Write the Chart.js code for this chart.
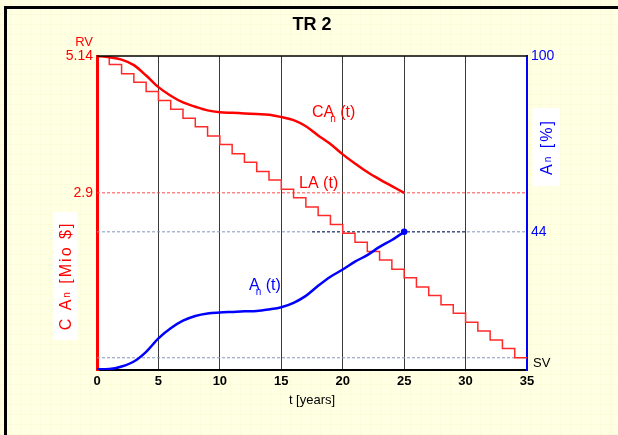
<!DOCTYPE html>
<html>
<head>
<meta charset="utf-8">
<script src="https://cdn.jsdelivr.net/npm/chart.js@4"></script>
<style>
body{
    margin:0;
    width:618px;
    height:435px;
    overflow:hidden;
    background-color:#ffffe4;
    background-image:
        repeating-linear-gradient(0deg, rgba(235,225,150,0.12) 0 1px, transparent 1px 10px),
        repeating-linear-gradient(90deg, rgba(235,225,150,0.12) 0 1px, transparent 1px 10px);
}
#marco{
    position:absolute;
    left:4px;
    top:6px;
    width:640px;
    height:460px;
    border-left:3px solid #000;
    border-top:3px solid #000;
}
#grafico{
    position:absolute;
    left:0;
    top:0;
}
</style>
</head>
<body>
<div id="marco"></div>
<canvas id="grafico" width="618" height="435"></canvas>

<script>

// ================================
// DATOS
// ================================

const años = [0,1,2,3,4,5,6,7,8,9,10,11,12,13,14,15,16,17,18,19,20,21,22,23,24,25];

const valorCA = [5.14,5.12,5.08,4.99,4.82,4.63,4.49,4.38,4.31,4.25,4.22,4.21,4.20,4.19,4.18,4.14,4.09,3.99,3.84,3.70,3.53,3.38,3.24,3.12,3.01,2.90];

const valorA = [0.2,0.3,1.1,2.7,5.8,10.1,13.3,15.7,17.2,18.0,18.3,18.5,18.7,18.8,19.3,20.0,21.4,23.6,26.8,29.7,32.0,34.5,36.6,39.2,41.4,44.0];

const añosLA = [0,1,2,3,4,5,6,7,8,9,10,11,12,13,14,15,16,17,18,19,20,21,22,23,24,25,26,27,28,29,30,31,32,33,34,35];

const valorLA = [5.14,5.00,4.85,4.71,4.56,4.41,4.27,4.12,3.98,3.83,3.69,3.54,3.40,3.25,3.11,2.96,2.82,2.67,2.53,2.38,2.24,2.09,1.94,1.80,1.65,1.51,1.36,1.22,1.07,0.93,0.78,0.64,0.49,0.35,0.20,0.20];

const RV = 5.14;
const SV = 0.20;
const valorFinal = 2.9;
const porcFinal = 44;

const ticksX = [0,5,10,15,20,25,30,35];
const ticksIzq = [2.9,5.14];
const ticksDer = [44,100];

// ================================
// GRAFICO
// ================================

const rojo = "#ff0000";
const azul = "#0000ff";
const fuente = "'Liberation Sans', Arial, sans-serif";

function puntos(xs, ys){
    return xs.map((x,i)=>({x:x, y:ys[i]}));
}

const fondo = {
    id:"fondo",
    beforeDraw(chart){
        const c = chart.ctx;
        const a = chart.chartArea;
        c.save();
        c.fillStyle = "#ffffff";
        c.fillRect(a.left, a.top, a.right-a.left, a.bottom-a.top);
        c.restore();
    }
};

const textos = {
    id:"textos",
    afterDraw(chart){
        const c = chart.ctx;
        const a = chart.chartArea;
        const sx = chart.scales.x;
        const sy = chart.scales.y;
        const sy1 = chart.scales.y1;

        c.save();

        // borde superior
        c.strokeStyle = "#000";
        c.lineWidth = 1.5;
        c.beginPath();
        c.moveTo(a.left, a.top);
        c.lineTo(a.right, a.top);
        c.stroke();

        // titulo
        c.fillStyle = "#000";
        c.font = "bold 18px " + fuente;
        c.textAlign = "center";
        c.textBaseline = "alphabetic";
        c.fillText("TR 2", (a.left+a.right)/2, 30);

        // titulo eje x
        c.font = "13px " + fuente;
        c.fillText("t [years]", (a.left+a.right)/2, a.bottom+34);

        // RV y SV
        c.font = "13px " + fuente;
        c.fillStyle = rojo;
        c.textAlign = "right";
        c.fillText("RV", a.left-4, a.top-10);

        c.fillStyle = "#000";
        c.textAlign = "left";
        c.fillText("SV", a.right+6, sy.getPixelForValue(SV)+9);

        // etiquetas de curvas
        function conSub(txt, sub, resto, x, y, color){
            c.fillStyle = color;
            c.textAlign = "left";
            c.font = "16px " + fuente;
            c.fillText(txt, x, y);
            let w = c.measureText(txt).width;
            c.font = "10px " + fuente;
            c.fillText(sub, x+w-4, y+5);
            c.font = "16px " + fuente;
            c.fillText(resto, x+w+6, y);
        }

        conSub("CA", "n", "(t)", sx.getPixelForValue(17.5), sy.getPixelForValue(4.14), rojo);

        c.font = "16px " + fuente;
        c.fillStyle = rojo;
        c.fillText("LA (t)", sx.getPixelForValue(16.45), sy.getPixelForValue(2.98));

        conSub("A", "n", "(t)", sx.getPixelForValue(12.37), sy1.getPixelForValue(25.5), azul);

        // titulos de ejes con fondo blanco
        function tituloEje(partes, cx, cy, color, ancho, alto){
            c.save();
            c.fillStyle = "#ffffff";
            c.fillRect(cx-ancho/2, cy-alto/2, ancho, alto);
            c.translate(cx, cy);
            c.rotate(-Math.PI/2);
            c.fillStyle = color;
            c.letterSpacing = "2px";
            let total = 0;
            partes.forEach(p=>{
                c.font = p.f;
                total += c.measureText(p.t).width;
            });
            let x = -total/2;
            partes.forEach(p=>{
                c.font = p.f;
                c.textAlign = "left";
                c.fillText(p.t, x, 6 + (p.dy||0));
                x += c.measureText(p.t).width;
            });
            c.restore();
        }

        tituloEje([
            {t:"C A", f:"16px " + fuente},
            {t:"n", f:"10px " + fuente, dy:-1},
            {t:" [Mio $]", f:"16px " + fuente}
        ], 65, 276, rojo, 24, 128);

        tituloEje([
            {t:"A", f:"16px " + fuente},
            {t:"n", f:"10px " + fuente, dy:-1},
            {t:" [%]", f:"16px " + fuente}
        ], 546, 147, azul, 27, 78);

        c.restore();
    }
};

const ctx = document.getElementById("grafico");

const grafico = new Chart(ctx, {

    type:"line",

    data:{
        datasets:[
            {
                label:"CA",
                data:puntos(años, valorCA),
                borderColor:rojo,
                borderWidth:2.5,
                cubicInterpolationMode:"monotone",
                pointRadius:0,
                yAxisID:"y"
            },
            {
                label:"A",
                data:puntos(años, valorA),
                borderColor:azul,
                backgroundColor:azul,
                borderWidth:2.5,
                cubicInterpolationMode:"monotone",
                pointRadius:años.map((a,i)=> i===años.length-1 ? 2 : 0),
                yAxisID:"y1"
            },
            {
                label:"LA",
                data:puntos(añosLA, valorLA),
                borderColor:"#ff2a2a",
                borderWidth:1.5,
                stepped:true,
                pointRadius:0,
                yAxisID:"y"
            },
            {
                label:"2.9",
                data:[{x:0,y:valorFinal},{x:35,y:valorFinal}],
                borderColor:"#ff4a4a",
                borderWidth:1,
                borderDash:[3,2],
                pointRadius:0,
                yAxisID:"y"
            },
            {
                label:"44 oscuro",
                data:[{x:17.5,y:porcFinal},{x:30,y:porcFinal}],
                borderColor:"#1a2860",
                borderWidth:1,
                borderDash:[3,2],
                pointRadius:0,
                yAxisID:"y1"
            },
            {
                label:"44",
                data:[{x:0,y:porcFinal},{x:35,y:porcFinal}],
                borderColor:"#8496bb",
                borderWidth:1,
                borderDash:[3,2],
                pointRadius:0,
                yAxisID:"y1"
            },
            {
                label:"SV",
                data:[{x:0,y:SV},{x:35,y:SV}],
                borderColor:"#8496bb",
                borderWidth:1,
                borderDash:[3,2],
                pointRadius:0,
                yAxisID:"y"
            }
        ]
    },

    options:{
        responsive:false,
        devicePixelRatio:1,
        animation:false,
        layout:{ padding:{ top:56, left:0, right:0, bottom:0 } },
        plugins:{
            legend:{ display:false },
            tooltip:{ enabled:false }
        },
        scales:{
            x:{
                type:"linear",
                min:0,
                max:35,
                afterBuildTicks(scale){
                    scale.ticks = ticksX.map(v=>({value:v}));
                },
                afterFit(scale){ scale.height = 65; },
                ticks:{
                    color:"#000",
                    font:{ family:fuente, size:13, weight:"bold" },
                    padding:4,
                    maxRotation:0
                },
                grid:{
                    color:"#3a3a3a",
                    lineWidth:1,
                    drawTicks:false
                },
                border:{ color:"#000", width:2 }
            },
            y:{
                position:"left",
                min:0,
                max:RV,
                afterBuildTicks(scale){
                    scale.ticks = ticksIzq.map(v=>({value:v}));
                },
                afterFit(scale){ scale.width = 97; },
                ticks:{
                    color:rojo,
                    font:{ family:fuente, size:14 },
                    padding:4,
                    callback:v=>String(v)
                },
                grid:{ display:false, drawTicks:false },
                border:{ color:rojo, width:3 }
            },
            y1:{
                position:"right",
                min:0,
                max:100,
                afterBuildTicks(scale){
                    scale.ticks = ticksDer.map(v=>({value:v}));
                },
                afterFit(scale){ scale.width = 91; },
                ticks:{
                    color:azul,
                    font:{ family:fuente, size:14 },
                    padding:4,
                    callback:v=>String(v)
                },
                grid:{ display:false, drawTicks:false },
                border:{ color:azul, width:2 }
            }
        }
    },

    plugins:[fondo, textos]

});

</script>
</body>
</html>
